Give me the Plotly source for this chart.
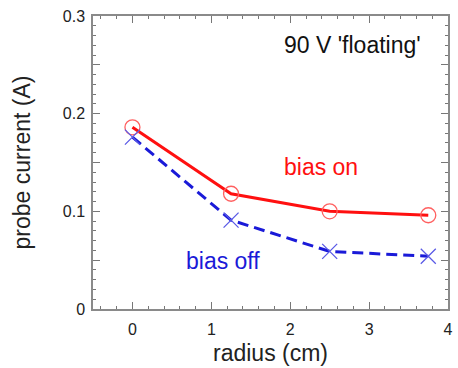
import plotly.graph_objects as go

# Probe current vs. radius, with and without bias
radius = [0.0, 1.25, 2.5, 3.75]
current_bias_on = [0.186, 0.118, 0.100, 0.096]
current_bias_off = [0.176, 0.091, 0.059, 0.054]

y_tick_vals = [0, 0.05, 0.1, 0.15, 0.2, 0.25, 0.3]
y_tick_text = ["0", "", "0.1", "", "0.2", "", "0.3"]

RED = "#ff1010"
BLUE = "#1a1ad8"
FONT = "Liberation Sans, Arial, sans-serif"

fig = go.Figure()

fig.add_trace(go.Scatter(
    x=radius, y=current_bias_on, mode="lines+markers",
    line=dict(color=RED, width=3),
    marker=dict(symbol="circle-open", size=15, color="#ff6060",
                line=dict(width=1.3, color="#ff6060")),
    showlegend=False,
))

fig.add_trace(go.Scatter(
    x=radius, y=current_bias_off, mode="lines+markers",
    line=dict(color=BLUE, width=3, dash="11px,6px"),
    marker=dict(symbol="x-thin-open", size=15, color="#5a5ae6",
                line=dict(width=1.3, color="#5a5ae6")),
    showlegend=False,
))

fig.add_annotation(x=356, y=45, text="90 V 'floating'",
                   showarrow=False, font=dict(family=FONT, size=23, color="#111"))
fig.add_annotation(x=324, y=167, text="bias on", showarrow=False,
                   font=dict(family=FONT, size=23, color=RED))
fig.add_annotation(x=225, y=261, text="bias off", showarrow=False,
                   font=dict(family=FONT, size=23, color=BLUE))

# annotation positions above are given in pixels; convert them to data units
L, R, T, B = 93, 5, 16, 59
W, H = 458, 368
pw, ph = W - L - R, H - T - B
xr, yr = (-0.5, 4.0), (0.0, 0.3)
for ann in fig.layout.annotations:
    px, py = ann.x, ann.y
    ann.update(xref="x", yref="y",
               x=xr[0] + (px - L) / pw * (xr[1] - xr[0]),
               y=yr[1] - (py - T) / ph * (yr[1] - yr[0]))

axis_common = dict(
    showline=True, linecolor="#8a8a8a", linewidth=1.5, mirror="ticks",
    ticks="inside", ticklen=7, tickwidth=1.2, tickcolor="#777",
    showgrid=False, zeroline=False,
    tickfont=dict(family=FONT, size=16, color="#222"),
)

fig.update_layout(
    width=W, height=H,
    margin=dict(l=L, r=R, t=T, b=B),
    paper_bgcolor="white", plot_bgcolor="white",
    xaxis=dict(
        range=list(xr), tick0=0, dtick=1, ticklabelstandoff=5,
        minor=dict(dtick=0.2, ticks="inside", ticklen=3, tickcolor="#777", tickwidth=1),
        title=dict(text="radius (cm)", font=dict(family=FONT, size=23, color="#222"), standoff=8),
        **axis_common,
    ),
    yaxis=dict(
        range=list(yr), tickmode="array", tickvals=y_tick_vals, ticktext=y_tick_text,
        ticklabelstandoff=3,
        minor=dict(dtick=0.01, tick0=0, ticks="inside", ticklen=3, tickcolor="#777", tickwidth=1),
        title=dict(text="probe current (A)", font=dict(family=FONT, size=23, color="#222"), standoff=26),
        **axis_common,
    ),
)

fig.write_html("out.html")
